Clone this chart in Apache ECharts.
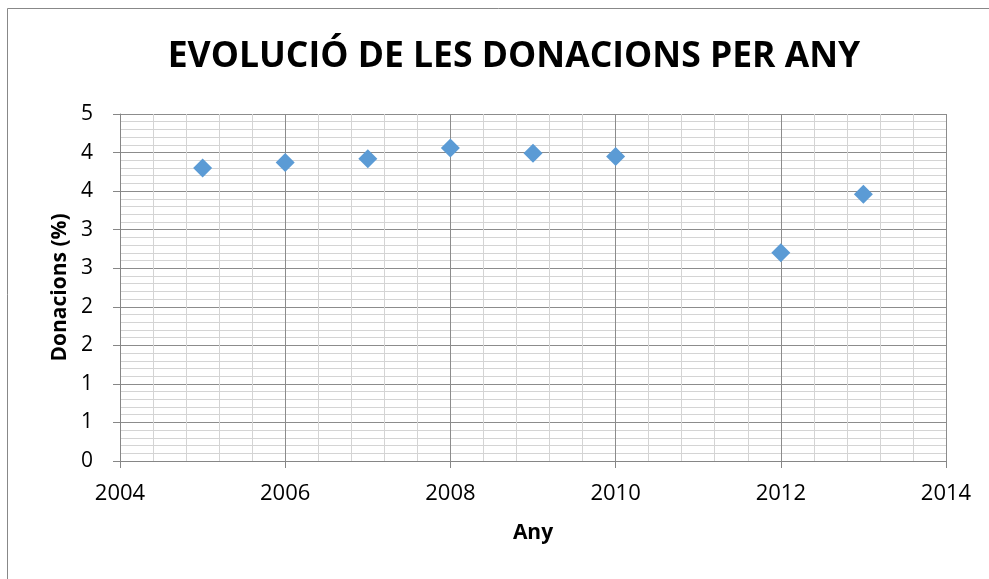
<!DOCTYPE html>
<html>
<head>
<meta charset="utf-8">
<script src="https://cdn.jsdelivr.net/npm/echarts@6/dist/echarts.min.js"></script>
<style>
  html, body { margin: 0; padding: 0; background: #fff; }
  #chart { width: 989px; height: 579px; }
</style>
</head>
<body>
<div id="chart"></div>
<script>
// values
const years = [2005, 2006, 2007, 2008, 2009, 2010, 2012, 2013];
const donacions = [3.80, 3.87, 3.92, 4.06, 3.99, 3.95, 2.70, 3.46];

const chart = echarts.init(document.getElementById('chart'));

const font = 'Open Sans, Noto Sans, sans-serif';

chart.setOption({
  backgroundColor: '#fff',
  animation: false,
  title: {
    text: 'EVOLUCIÓ DE LES DONACIONS PER ANY',
    left: 509,
    textAlign: 'center',
    top: 34,
    textStyle: { fontFamily: font, fontWeight: 'bold', fontSize: 35.5, color: '#000' }
  },
  graphic: [{
    type: 'rect',
    shape: { x: 7.5, y: 8.5, width: 1000, height: 600 },
    style: { fill: 'none', stroke: '#888', lineWidth: 1 },
    silent: true
  }],
  grid: { left: 120, top: 114, width: 826, height: 347 },
  xAxis: {
    type: 'value',
    min: 2004, max: 2014, interval: 2,
    name: 'Any',
    nameLocation: 'middle',
    nameGap: 62,
    nameTextStyle: { fontFamily: font, fontWeight: 'bold', fontSize: 21, color: '#000' },
    axisLine: { show: true, onZero: false, lineStyle: { color: '#868686' } },
    axisTick: { show: true, length: 7, lineStyle: { color: '#868686' } },
    axisLabel: { fontFamily: font, fontSize: 22, color: '#000', margin: 22, formatter: v => String(v) },
    splitLine: { show: true, lineStyle: { color: '#8c8c8c' } },
    minorTick: { show: false, splitNumber: 5 },
    minorSplitLine: { show: true, lineStyle: { color: '#d4d4d4' } }
  },
  yAxis: {
    type: 'value',
    min: 0, max: 4.5, interval: 0.5,
    name: 'Donacions (%)',
    nameLocation: 'middle',
    nameGap: 47,
    nameTextStyle: { fontFamily: font, fontWeight: 'bold', fontSize: 21, color: '#000' },
    axisLine: { show: true, lineStyle: { color: '#868686' } },
    axisTick: { show: true, length: 7, lineStyle: { color: '#868686' } },
    axisLabel: {
      fontFamily: font, fontSize: 21, color: '#000', margin: 27,
      formatter: v => String(Math.round(v + 1e-9))
    },
    splitLine: { show: true, lineStyle: { color: '#8c8c8c' } },
    minorTick: { show: false, splitNumber: 5 },
    minorSplitLine: { show: true, lineStyle: { color: '#d4d4d4' } }
  },
  series: [{
    type: 'scatter',
    symbol: 'diamond',
    symbolSize: 19,
    itemStyle: { color: '#5b9bd5', opacity: 1 },
    data: years.map((y, i) => [y, donacions[i]])
  }]
});
</script>
</body>
</html>
